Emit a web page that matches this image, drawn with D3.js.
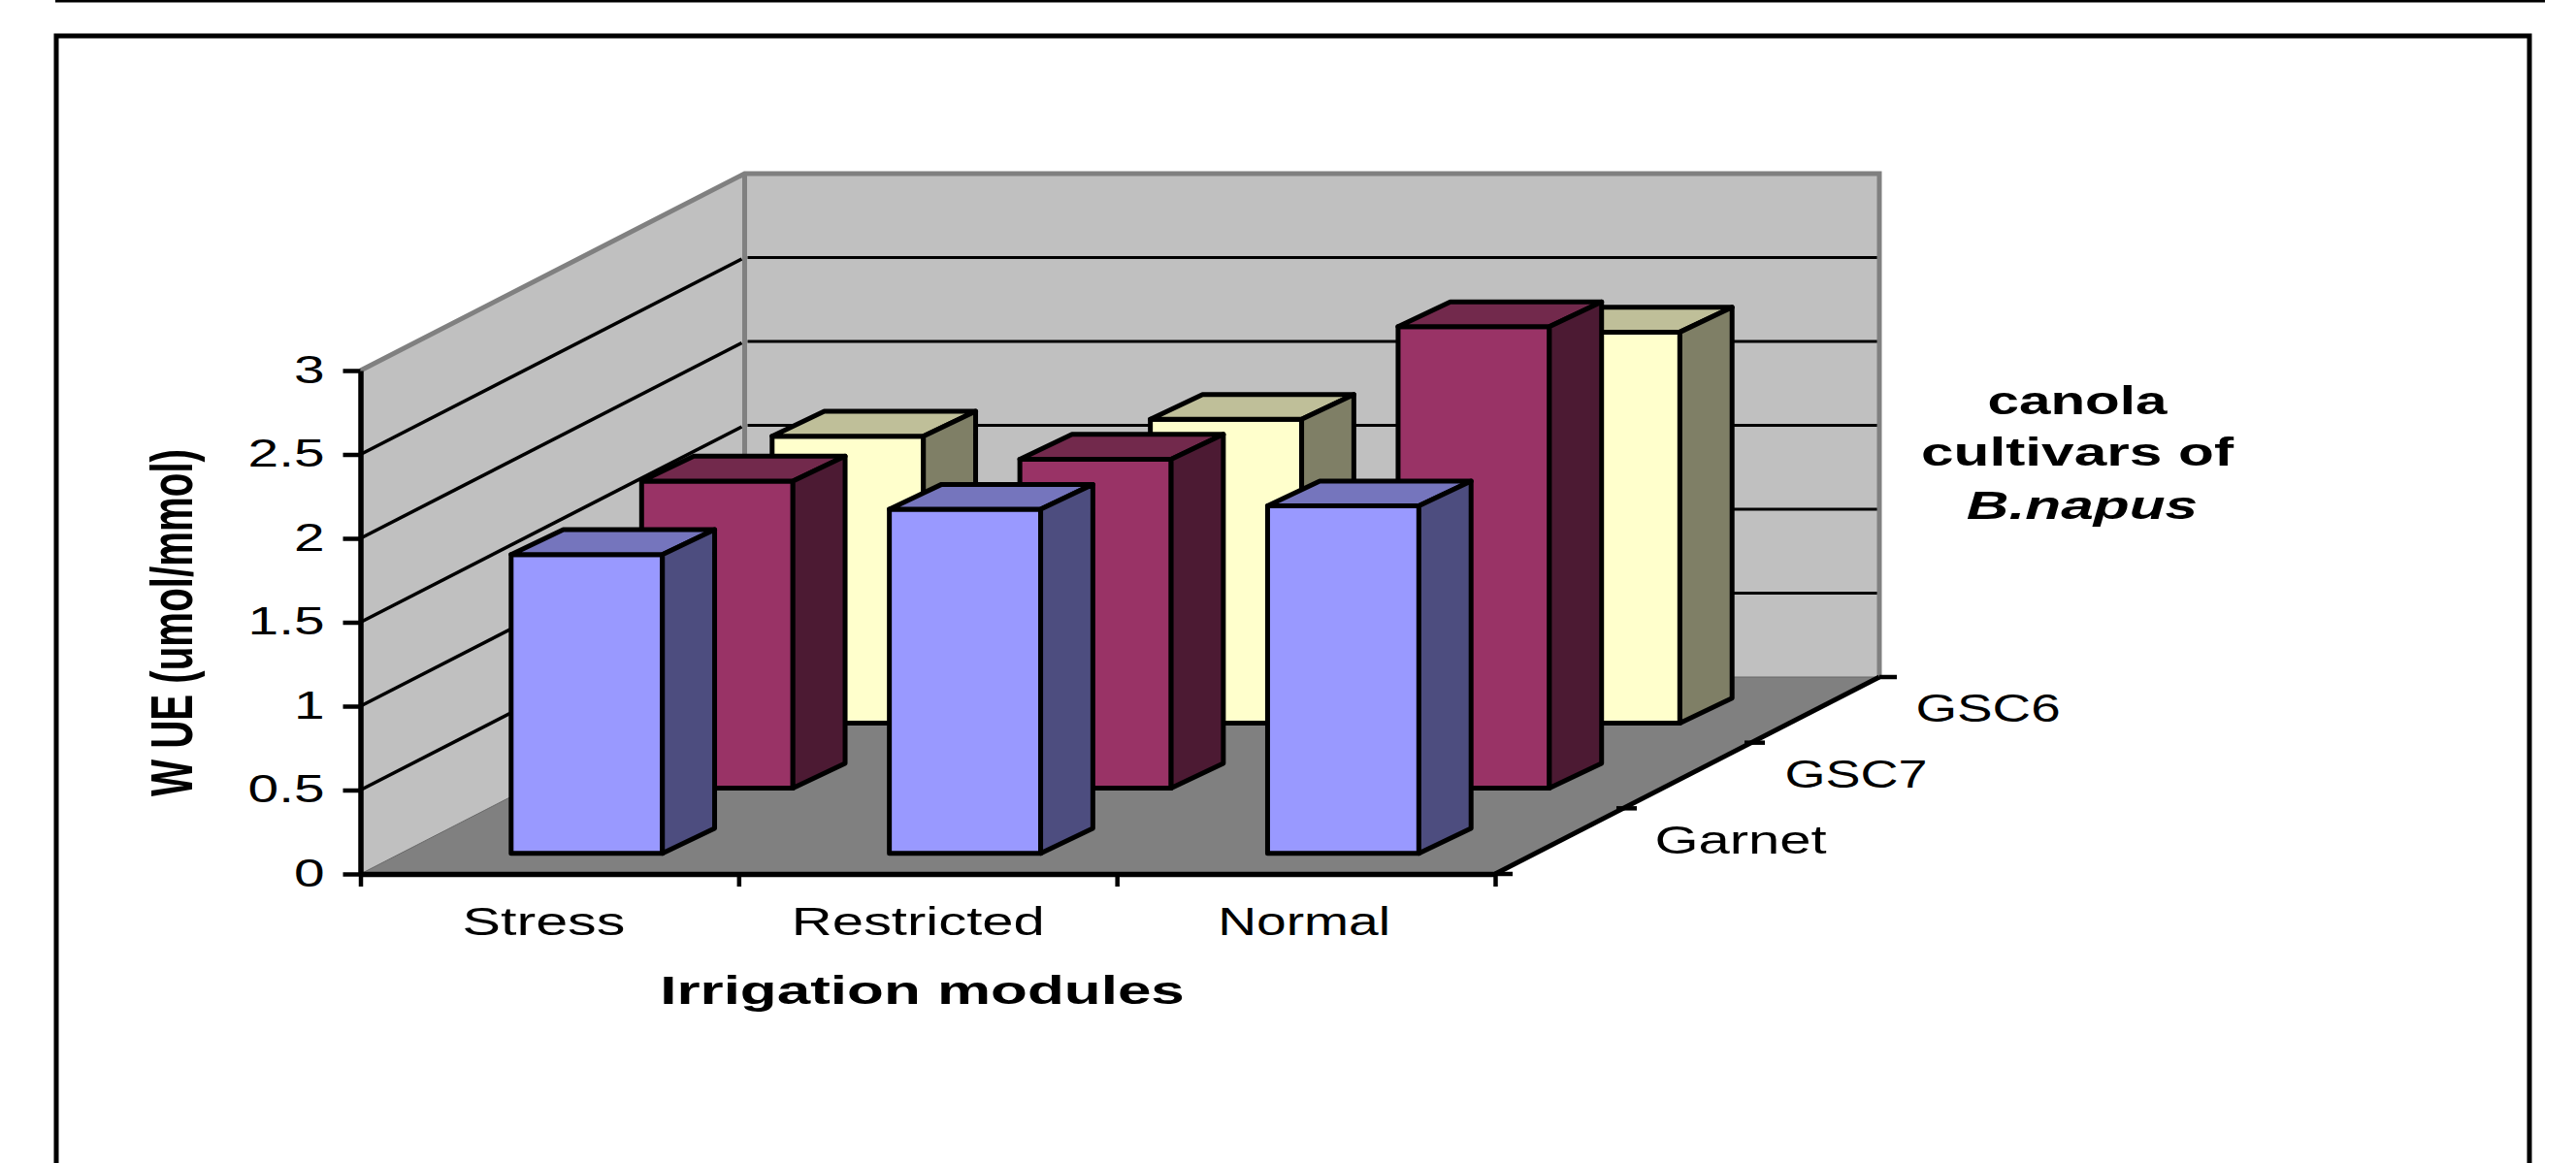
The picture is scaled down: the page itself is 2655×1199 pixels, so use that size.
<!DOCTYPE html>
<html lang="en">
<head>
    <meta charset="UTF-8" />
    <title>WUE of canola cultivars</title>
    <script src="https://d3js.org/d3.v7.min.js"></script>
    <style>
        body { margin: 0; background: #fff; }
        svg { display: block; }
        text { font-family: "Liberation Sans", Arial, sans-serif; font-size: 40px; fill: #000; }
        .bold { font-weight: bold; }
    </style>
</head>
<body>
    <script>
        // data
        const categories = ["Stress", "Restricted", "Normal"];
        const cultivars = ["Garnet", "GSC7", "GSC6"];
        const garnet = [1.78, 2.05, 2.07];
        const gsc7 = [1.83, 1.96, 2.75];
        const gsc6 = [1.71, 1.81, 2.33];
        const yTicks = [0, 0.5, 1, 1.5, 2, 2.5, 3];
        const legendLines = ["canola", "cultivars of", "B.napus"];

        const frontFill = ["#9999ff", "#993366", "#ffffcc"];
        const topFill = ["#7575bd", "#72294c", "#bfbf99"];
        const sideFill = ["#4d4d7f", "#4c1a33", "#7f7f66"];

        // label stretch and nudge, the picture's text is not evenly spaced
        const categoryStretch = [1.48, 1.45, 1.38];
        const categoryNudge = [0, -4, 4];
        const cultivarStretch = [1.45, 1.35, 1.37];
        const cultivarNudge = [9, -4, 0];

        const width = 2655, height = 1199;

        // floor corners, oblique projection
        const left = 371.5, right = 1541, base = 901;
        const depthX = 396, depthY = 203;

        const svg = d3.select("body").append("svg")
            .attr("width", width)
            .attr("height", height);

        const y = d3.scaleLinear().domain([0, 3]).range([base, base - 519]);
        const xEdge = d3.scaleLinear().domain([0, 3]).range([left, right]);
        const depth = d3.scaleLinear().domain([0, 3]).range([0, 1]);

        // bars sit in bands along the width and along the depth
        const x = d3.scaleBand().domain(categories).range([left, right]).paddingInner(0.6).paddingOuter(0.3);
        const zx = d3.scaleBand().domain(cultivars).range([0, 403.5]).paddingInner(0.6).paddingOuter(0.3);
        const zy = d3.scaleBand().domain(cultivars).range([1.2, 202.5]).paddingInner(0.6).paddingOuter(0.3);

        const poly = pts => "M" + pts.map(p => p.join(",")).join("L") + "Z";

        // stretched text, the original image is wider than tall
        function label(g, str, px, py, sx, anchor) {
            return g.append("text")
                .attr("transform", `translate(${px},${py}) scale(${sx},1)`)
                .attr("text-anchor", anchor || "middle")
                .text(str);
        }

        // frame round the figure, its bottom edge is off the page
        svg.append("path")
            .attr("d", "M58,1199V37H2607V1199")
            .attr("fill", "none").attr("stroke", "#000").attr("stroke-width", 5);
        svg.append("line")
            .attr("x1", 57).attr("x2", 2623).attr("y1", 1).attr("y2", 1)
            .attr("stroke", "#000").attr("stroke-width", 3);

        // walls and floor
        const top3 = y(3), backBase = base - depthY;
        svg.append("path")
            .attr("d", poly([[left, top3], [left + depthX, top3 - depthY], [left + depthX, backBase], [left, base]]))
            .attr("fill", "#c0c0c0");
        svg.append("path")
            .attr("d", poly([[left + depthX, top3 - depthY], [right + depthX, top3 - depthY], [right + depthX, backBase], [left + depthX, backBase]]))
            .attr("fill", "#c0c0c0");
        svg.append("path")
            .attr("d", poly([[left, base], [left + depthX, backBase], [right + depthX, backBase], [right, base]]))
            .attr("fill", "#808080").attr("stroke", "#666").attr("stroke-width", 1);

        // gridlines
        const grid = yTicks.filter(d => d > 0 && d < 3);
        svg.append("g").selectAll("line.side").data(grid).enter().append("line")
            .attr("x1", left).attr("y1", d => y(d))
            .attr("x2", left + depthX - 3).attr("y2", d => y(d) - depthY + 1.5)
            .attr("stroke", "#000").attr("stroke-width", 3.6);
        svg.append("g").selectAll("line.back").data(grid).enter().append("line")
            .attr("x1", left + depthX + 3).attr("x2", right + depthX - 2)
            .attr("y1", d => y(d) - depthY).attr("y2", d => y(d) - depthY)
            .attr("stroke", "#000").attr("stroke-width", 3.2);

        // wall outline
        svg.append("path")
            .attr("d", `M${left},${top3}L${left + depthX},${top3 - depthY}H${right + depthX}V${backBase}M${left + depthX},${top3 - depthY}V${backBase}`)
            .attr("fill", "none").attr("stroke", "#808080").attr("stroke-width", 5);

        // y axis
        const yAxis = svg.append("g")
            .attr("transform", `translate(${left},0)`)
            .call(d3.axisLeft(y).tickValues(yTicks).tickSize(18).tickSizeOuter(0).tickFormat(d3.format("")));
        yAxis.select(".domain").attr("stroke", "#000").attr("stroke-width", 5.5);
        yAxis.selectAll(".tick line").attr("stroke", "#000").attr("stroke-width", 4.5);
        yAxis.selectAll(".tick text")
            .attr("x", null).attr("dy", null)
            .attr("transform", "translate(-37,12) scale(1.42,1)")
            .attr("text-anchor", "end");

        // x axis, ticks on the category edges and labels in the middle
        const xAxis = svg.append("g")
            .attr("transform", `translate(0,${base})`)
            .call(d3.axisBottom(xEdge).ticks(3).tickSize(13).tickSizeOuter(0).tickFormat(""));
        xAxis.select(".domain").attr("stroke", "#000").attr("stroke-width", 5.5);
        xAxis.selectAll(".tick line").attr("stroke", "#000").attr("stroke-width", 4.5);

        const xLabels = svg.append("g")
            .attr("transform", `translate(-6,${base})`)
            .call(d3.axisBottom(x).tickSize(0));
        xLabels.select(".domain").remove();
        xLabels.selectAll(".tick text")
            .attr("y", null).attr("dy", null)
            .attr("transform", (d, i) => `translate(${categoryNudge[i]},63) scale(${categoryStretch[i]},1)`);

        // depth axis along the floor edge
        const depthAxis = svg.append("g");
        depthAxis.append("line")
            .attr("x1", right).attr("y1", base)
            .attr("x2", right + depthX).attr("y2", backBase)
            .attr("stroke", "#000").attr("stroke-width", 5);
        depthAxis.selectAll("line.tick").data(depth.ticks(3)).enter().append("line")
            .attr("x1", d => right + depth(d) * depthX - (d > 0 && d < 3 ? 7 : 0))
            .attr("x2", d => right + depth(d) * depthX + (d > 0 && d < 3 ? 14 : 18))
            .attr("y1", d => base - depth(d) * depthY)
            .attr("y2", d => base - depth(d) * depthY)
            .attr("stroke", "#000").attr("stroke-width", 4.5);
        cultivars.forEach((c, i) => {
            const f = depth(i + 0.5);
            label(depthAxis, c, right + f * depthX + 178 + cultivarNudge[i], base - f * depthY + 12.5, cultivarStretch[i]);
        });

        // bars, back row first so the nearer rows cover it
        const rows = [garnet, gsc7, gsc6];
        const bars = [];
        [2, 1, 0].forEach(r => {
            categories.forEach((c, i) => {
                bars.push({ category: c, cultivar: cultivars[r], value: rows[r][i], row: r });
            });
        });

        const bar = svg.append("g").selectAll("g").data(bars).enter().append("g")
            .attr("stroke", "#000")
            .attr("stroke-width", 5)
            .attr("stroke-linejoin", "round");

        const bx = d => x(d.category) + zx(d.cultivar) - 2;
        const by = d => zy(d.cultivar);
        const bw = x.bandwidth(), dx = zx.bandwidth(), dy = zy.bandwidth() - 1.2;

        bar.append("path")
            .attr("fill", d => frontFill[d.row])
            .attr("d", d => {
                const x0 = bx(d), y0 = y(0) - by(d), y1 = y(d.value) - by(d);
                return poly([[x0, y0], [x0 + bw, y0], [x0 + bw, y1], [x0, y1]]);
            });
        bar.append("path")
            .attr("fill", d => topFill[d.row])
            .attr("d", d => {
                const x0 = bx(d), y1 = y(d.value) - by(d);
                return poly([[x0, y1], [x0 + bw, y1], [x0 + bw + dx, y1 - dy], [x0 + dx, y1 - dy]]);
            });
        bar.append("path")
            .attr("fill", d => sideFill[d.row])
            .attr("d", d => {
                const x1 = bx(d) + bw, y0 = y(0) - by(d), y1 = y(d.value) - by(d);
                return poly([[x1, y0], [x1 + dx, y0 - dy], [x1 + dx, y1 - dy], [x1, y1]]);
            });

        // titles
        label(svg, "Irrigation modules", 950.5, 1035, 1.55).attr("class", "bold");

        svg.append("text")
            .attr("class", "bold")
            .attr("transform", "translate(198,642) rotate(-90) scale(0.65,1)")
            .attr("text-anchor", "middle")
            .style("font-size", "62px")
            .text("W UE (umol/mmol)");

        label(svg, legendLines[0], 2141, 426.5, 1.46).attr("class", "bold");
        label(svg, legendLines[1], 2141, 480, 1.51).attr("class", "bold");
        label(svg, legendLines[2], 2146, 535, 1.51).attr("class", "bold").style("font-style", "italic");
    </script>
</body>
</html>
